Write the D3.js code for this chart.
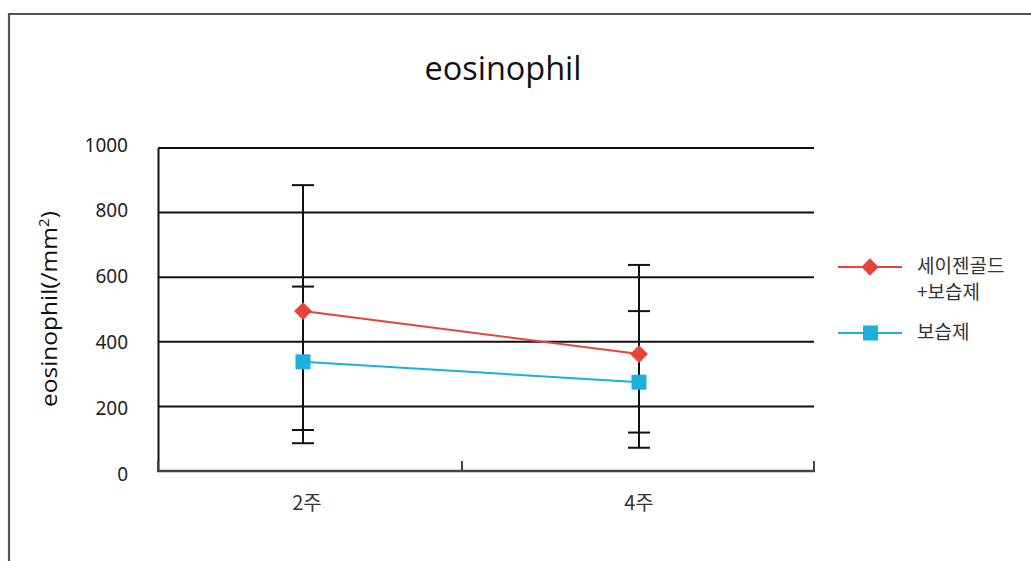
<!DOCTYPE html>
<html><head><meta charset="utf-8">
<script src="https://cdn.jsdelivr.net/npm/d3@7"></script>
<style>body{margin:0;background:#fff;} svg{display:block;}</style>
</head><body>
<svg id="chart" width="1031" height="561"></svg>
<script>
const categories = ["2주", "4주"];
const seriesNames = ["세이젠골드+보습제", "보습제"];
const legendLines = [["세이젠골드", "+보습제"], ["보습제"]];
const goldMean = [495, 362];
const goldLow = [86, 72];
const goldHigh = [885, 638];
const moistMean = [338, 275];
const moistLow = [127, 119];
const moistHigh = [571, 495];
const yTicks = [0, 200, 400, 600, 800, 1000];
const colors = ["#e8433a", "#1cb0d8"];

const svg = d3.select("#chart");
// frame
svg.append("path").attr("d", "M9,570 V14 H1040").attr("fill", "none").attr("stroke", "#555").attr("stroke-width", 2.2);

const y = d3.scaleLinear().domain([0, 1000]).range([471, 148]);
const x = d3.scalePoint().domain(categories).range([303, 639]);
const xLeft = 158, xRight = 814, xMid = 462;

// gridlines
svg.append("g").selectAll("line").data(yTicks.filter(d => d > 0)).join("line")
  .attr("x1", xLeft).attr("x2", xRight).attr("y1", d => y(d)).attr("y2", d => y(d))
  .attr("stroke", "#111").attr("stroke-width", 2);

// y axis
const yAxis = d3.axisLeft(y).tickValues(yTicks).tickSize(0).tickPadding(30).tickFormat(d3.format("d"));
const gy = svg.append("g").attr("transform", `translate(${xLeft},0)`).call(yAxis);
gy.select(".domain").attr("stroke", "#111").attr("stroke-width", 2);
gy.selectAll("text").attr("font-family", "Noto Sans, Open Sans, sans-serif").attr("font-size", 19).attr("fill", "#222")
  .attr("dy", d => (0.32 - (d - 500) / 500 * 0.16) + "em");

// x axis
svg.append("line").attr("x1", xLeft - 1).attr("x2", xRight + 1).attr("y1", y(0)).attr("y2", y(0)).attr("stroke", "#444").attr("stroke-width", 2.5);
svg.append("g").selectAll("line").data([xLeft, xMid, xRight]).join("line")
  .attr("x1", d => d).attr("x2", d => d).attr("y1", y(0)).attr("y2", y(0) - 10)
  .attr("stroke", "#444").attr("stroke-width", 2);
svg.append("g").selectAll("text").data(categories).join("text")
  .attr("x", (d, i) => x(d) + (i === 0 ? 4 : 0)).attr("y", 510).attr("text-anchor", "middle")
  .attr("font-family", "Noto Sans CJK KR, sans-serif").attr("font-size", 20).attr("fill", "#333")
  .text(d => d);

// error bars
const errData = [
  {low: goldLow, high: goldHigh},
  {low: moistLow, high: moistHigh}
];
const eg = svg.append("g");
errData.forEach(s => {
  categories.forEach((c, i) => {
    eg.append("line").attr("x1", x(c)).attr("x2", x(c)).attr("y1", y(s.low[i])).attr("y2", y(s.high[i])).attr("stroke", "#111").attr("stroke-width", 2);
    [s.low[i], s.high[i]].forEach(v => {
      eg.append("line").attr("x1", x(c) - 11).attr("x2", x(c) + 11).attr("y1", y(v)).attr("y2", y(v)).attr("stroke", "#111").attr("stroke-width", 2);
    });
  });
});

// series
const series = [goldMean, moistMean];
const line = d3.line().x((d, i) => x(categories[i])).y(d => y(d));
series.forEach((s, k) => {
  svg.append("path").datum(s).attr("d", line).attr("fill", "none").attr("stroke", colors[k]).attr("stroke-width", 2);
});
svg.append("g").selectAll("path").data(goldMean).join("path")
  .attr("d", d3.symbol().type(d3.symbolSquare).size(160)).attr("transform", (d, i) => `translate(${x(categories[i])},${y(d)}) rotate(45)`)
  .attr("fill", colors[0]);
svg.append("g").selectAll("rect").data(moistMean).join("rect")
  .attr("x", (d, i) => x(categories[i]) - 7.5).attr("y", d => y(d) - 7.5).attr("width", 15).attr("height", 15)
  .attr("fill", colors[1]);

// title
svg.append("text").attr("x", 503).attr("y", 80).attr("text-anchor", "middle")
  .attr("font-family", "Open Sans, Noto Sans, sans-serif").attr("font-size", 32).attr("fill", "#111")
  .attr("textLength", 157).attr("lengthAdjust", "spacingAndGlyphs").text("eosinophil");

// y title
const yt = svg.append("text").attr("transform", "translate(57,309) rotate(-90)").attr("text-anchor", "middle")
  .attr("font-family", "Open Sans, Noto Sans, sans-serif").attr("font-size", 22).attr("fill", "#111")
  .attr("textLength", 196).attr("lengthAdjust", "spacingAndGlyphs");
yt.append("tspan").text("eosinophil(/mm");
yt.append("tspan").attr("dy", -8).attr("font-size", 14).text("2");
yt.append("tspan").attr("dy", 8).text(")");

// legend
const lg = svg.append("g");
const legY = [267, 333];
seriesNames.forEach((n, k) => {
  lg.append("line").attr("x1", 838).attr("x2", 902).attr("y1", legY[k]).attr("y2", legY[k]).attr("stroke", colors[k]).attr("stroke-width", 2);
  if (k === 0) {
    lg.append("path").attr("d", d3.symbol().type(d3.symbolSquare).size(150)).attr("transform", `translate(870,${legY[k]}) rotate(45)`).attr("fill", colors[0]);
  } else {
    lg.append("rect").attr("x", 863).attr("y", legY[k] - 7.5).attr("width", 15).attr("height", 15).attr("fill", colors[1]);
  }
  legendLines[k].forEach((t, j) => {
    lg.append("text").attr("x", 917).attr("y", legY[k] + 6 + j * 26)
      .attr("font-family", "Noto Sans CJK KR, sans-serif").attr("font-size", 19).attr("fill", "#333").text(t);
  });
});
</script>
</body></html>
